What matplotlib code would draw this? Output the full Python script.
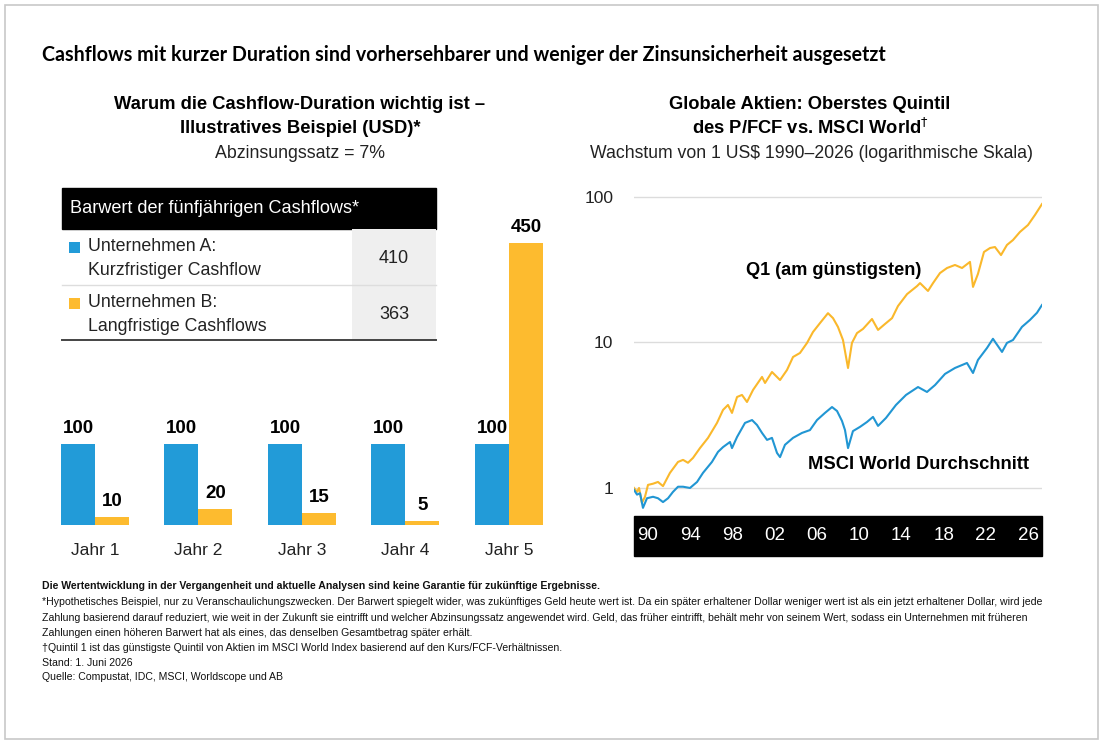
import numpy as np
import matplotlib
matplotlib.use('Agg')
import matplotlib.pyplot as plt
from matplotlib.patches import Rectangle
from matplotlib import transforms
from matplotlib.ticker import NullLocator

plt.rcParams['font.family'] = ['Liberation Sans', 'DejaVu Sans']

W, H = 1104, 748
BLUE = '#229bd8'
ORANGE = '#fdbb2f'
LINE_BLUE = '#2196d3'
LINE_ORANGE = '#fab82b'

# left: illustrative cash flows
jahre = ['Jahr 1', 'Jahr 2', 'Jahr 3', 'Jahr 4', 'Jahr 5']
cash_a = [100, 100, 100, 100, 100]
cash_b = [10, 20, 15, 5, 450]
table_names = [('Unternehmen A:', 'Kurzfristiger Cashflow'),
               ('Unternehmen B:', 'Langfristige Cashflows')]
table_values = [410, 363]

# right: growth of 1 US$
q1_years = [1990.0, 1990.27, 1990.45, 1990.71, 1990.98, 1991.25, 1991.7, 1992.14, 1992.59, 1993.21,
            1993.93, 1994.38, 1994.82, 1995.27, 1995.89, 1996.61, 1997.41, 1997.95, 1998.39, 1998.75,
            1999.2, 1999.64, 2000.09, 2000.63, 2001.43, 2001.7, 2002.32, 2003.04, 2003.66, 2004.2,
            2004.82, 2005.45, 2005.98, 2006.61, 2007.32, 2007.77, 2008.21, 2008.66, 2009.11, 2009.46,
            2009.91, 2010.45, 2011.25, 2011.79, 2012.41, 2013.04, 2013.57, 2014.38, 2015.27, 2015.54,
            2016.25, 2016.7, 2017.32, 2017.95, 2018.66, 2019.29, 2020.0, 2020.27, 2020.71, 2021.25,
            2021.79, 2022.23, 2022.77, 2023.3, 2023.84, 2024.46, 2025.18, 2025.8, 2026.43]
q1_values = [1.00, 0.94, 1.00, 0.79, 0.87, 1.05, 1.07, 1.10, 1.03, 1.27,
             1.51, 1.56, 1.49, 1.61, 1.88, 2.21, 2.80, 3.44, 3.72, 3.28,
             4.22, 4.36, 3.90, 4.72, 5.80, 5.27, 6.27, 5.52, 6.47, 7.95,
             8.47, 9.93, 11.8, 13.6, 15.9, 14.7, 12.8, 10.4, 6.68, 9.93,
             11.6, 12.4, 14.5, 12.2, 13.4, 14.7, 17.8, 21.5, 24.4, 25.6,
             22.6, 25.6, 30.0, 32.5, 34.1, 32.5, 35.8, 24.1, 29.6, 41.9,
             44.6, 45.3, 39.9, 46.8, 50.6, 57.5, 64.2, 75.2, 89.5]

msci_years = [1990.0, 1990.27, 1990.54, 1990.8, 1991.16, 1991.7, 1992.14, 1992.59, 1993.04, 1993.48,
              1993.93, 1994.38, 1995.0, 1995.63, 1996.16, 1996.96, 1997.5, 1997.95, 1998.57, 1998.75,
              1999.2, 1999.91, 2000.54, 2000.98, 2001.43, 2001.88, 2002.32, 2002.77, 2003.04, 2003.48,
              2004.2, 2005.0, 2005.71, 2006.34, 2007.05, 2007.68, 2008.13, 2008.57, 2008.84, 2009.11,
              2009.55, 2010.18, 2010.8, 2011.34, 2011.79, 2012.5, 2013.39, 2014.29, 2015.36, 2016.16,
              2016.88, 2017.77, 2018.66, 2019.73, 2020.27, 2020.71, 2021.52, 2022.05, 2022.86, 2023.3,
              2023.84, 2024.64, 2025.36, 2025.98, 2026.43]
msci_values = [0.97, 0.90, 0.92, 0.73, 0.85, 0.87, 0.85, 0.80, 0.85, 0.94,
               1.02, 1.02, 1.00, 1.10, 1.27, 1.51, 1.77, 1.91, 2.07, 1.88,
               2.24, 2.80, 2.93, 2.71, 2.39, 2.14, 2.21, 1.74, 1.63, 1.98,
               2.21, 2.39, 2.50, 2.93, 3.28, 3.60, 3.38, 2.89, 2.50, 1.88,
               2.46, 2.63, 2.84, 3.08, 2.67, 3.03, 3.72, 4.36, 4.94, 4.57,
               5.10, 6.08, 6.68, 7.23, 6.17, 7.58, 9.17, 10.6, 8.61, 9.93,
               10.4, 12.8, 14.3, 16.0, 18.1]

x_labels = ['90', '94', '98', '02', '06', '10', '14', '18', '22', '26']
y_ticks = [1, 10, 100]

footnotes = [
    'Die Wertentwicklung in der Vergangenheit und aktuelle Analysen sind keine Garantie für zukünftige Ergebnisse.',
    '*Hypothetisches Beispiel, nur zu Veranschaulichungszwecken. Der Barwert spiegelt wider, was zukünftiges Geld heute wert ist. '
    'Da ein später erhaltener Dollar weniger wert ist als ein jetzt erhaltener Dollar, wird jede',
    'Zahlung basierend darauf reduziert, wie weit in der Zukunft sie eintrifft und welcher Abzinsungssatz angewendet wird. '
    'Geld, das früher eintrifft, behält mehr von seinem Wert, sodass ein Unternehmen mit früheren',
    'Zahlungen einen höheren Barwert hat als eines, das denselben Gesamtbetrag später erhält.',
    '†Quintil 1 ist das günstigste Quintil von Aktien im MSCI World Index basierend auf den Kurs/FCF-Verhältnissen.',
    'Stand: 1. Juni 2026',
    'Quelle: Compustat, IDC, MSCI, Worldscope und AB',
]


def fig_rect(x0, y0, x1, y1):
    return [x0 / W, 1 - y1 / H, (x1 - x0) / W, (y1 - y0) / H]


fig = plt.figure(figsize=(W / 100, H / 100), dpi=100)

# background axes in pixel coordinates for texts, table and frames
bg = fig.add_axes([0, 0, 1, 1])
bg.set_xlim(0, W)
bg.set_ylim(H, 0)
bg.axis('off')

bg.add_patch(Rectangle((5, 5), 1093, 734, fill=False, edgecolor='#c8c8c8', lw=1.2))
bg.text(42, 55, 'Cashflows mit kurzer Duration sind vorhersehbarer und weniger der Zinsunsicherheit ausgesetzt',
        fontsize=14.1, fontweight='bold', family=['Lato', 'DejaVu Sans'], va='center', ha='left')

# left titles
bg.text(300, 104, 'Warum die Cashflow-Duration wichtig ist –', fontsize=13.2, fontweight='bold', ha='center', va='center')
bg.text(300, 128, 'Illustratives Beispiel (USD)*', fontsize=13.2, fontweight='bold', ha='center', va='center')
bg.text(300, 153, 'Abzinsungssatz = 7%', fontsize=12.8, ha='center', va='center', color='#222222')

# table
bg.add_patch(Rectangle((62, 188), 374, 41, color='black'))
bg.text(70, 208.5, 'Barwert der fünfjährigen Cashflows*', fontsize=13.1, color='white', va='center')
row_top = [229, 285]
for i, (names, val) in enumerate(zip(table_names, table_values)):
    top = row_top[i]
    bg.add_patch(Rectangle((352, top), 84, 56, color='#efefef', lw=0))
    bg.add_patch(Rectangle((69, top + 13), 11, 11, color=[BLUE, ORANGE][i], lw=0))
    bg.text(88, top + 17, names[0], fontsize=12.8, va='center', color='#222222')
    bg.text(88, top + 41, names[1], fontsize=12.8, va='center', color='#222222')
    bg.text(394, top + 29, str(val), fontsize=13, va='center', ha='center', color='#222222')
bg.plot([62, 436], [285, 285], color='#dddddd', lw=1)
bg.plot([62, 436], [340, 340], color='#444444', lw=1.4)

# right titles
bg.text(810, 104, 'Globale Aktien: Oberstes Quintil', fontsize=13.2, fontweight='bold', ha='center', va='center')
bg.text(810, 128, 'des P/FCF vs. MSCI World$^{\\dagger}$', fontsize=13.2, fontweight='bold', ha='center', va='center')
bg.text(812, 153, 'Wachstum von 1 US$ 1990–2026 (logarithmische Skala)', fontsize=12.7, ha='center', va='center',
        color='#222222')

# black year band
bg.add_patch(Rectangle((634, 516), 408, 40, color='black'))

# labels on the line chart
bg.text(834, 270, 'Q1 (am günstigsten)', fontsize=13.1, fontweight='bold', ha='center', va='center')
bg.text(919, 464, 'MSCI World Durchschnitt', fontsize=13.2, fontweight='bold', ha='center', va='center')

# footnotes
foot_y = [586, 602, 618, 633, 648, 662.5, 677]
for i, (line, y) in enumerate(zip(footnotes, foot_y)):
    bg.text(42, y, line, fontsize=7.52, va='center', ha='left',
            fontweight='bold' if i == 0 else 'normal', color='#111111')

# bar chart
ax = fig.add_axes(fig_rect(40, 243, 560, 525))
ax.patch.set_visible(False)
x = np.arange(len(jahre))
w = 0.3285
ax.bar(x - w / 2, cash_a, width=w, color=BLUE, lw=0)
ax.bar(x + w / 2, cash_b, width=w, color=ORANGE, lw=0)
ax.set_xlim(-0.531, 4.493)
ax.set_ylim(0, 348)
top = ax.get_ylim()[1]
for xi, va_, vb in zip(x, cash_a, cash_b):
    ax.annotate(str(va_), (xi - w / 2, min(va_, top)), xytext=(0, 5), textcoords='offset points',
                ha='center', va='bottom', fontsize=13.5, fontweight='bold', annotation_clip=False)
    ax.annotate(str(vb), (xi + w / 2, min(vb, top)), xytext=(0, 5), textcoords='offset points',
                ha='center', va='bottom', fontsize=13.5, fontweight='bold', annotation_clip=False)
ax.set_xticks(x)
ax.set_xticklabels(jahre, fontsize=12.5, color='#222222')
ax.tick_params(axis='x', length=0, pad=13)
ax.set_yticks([])
for s in ax.spines.values():
    s.set_visible(False)

# line chart
ax2 = fig.add_axes(fig_rect(634, 190, 1042, 515))
ax2.patch.set_visible(False)
ax2.set_yscale('log')
for t in y_ticks:
    ax2.axhline(t, color='#dcdcdc', lw=1, zorder=0)
ax2.plot(q1_years, q1_values, color=LINE_ORANGE, lw=1.5, zorder=3)
ax2.plot(msci_years, msci_values, color=LINE_BLUE, lw=1.5, zorder=3)
ax2.set_xlim(1990, 2026.43)
ax2.set_ylim(0.652, 111.7)
ax2.set_yticks(y_ticks)
ax2.set_yticklabels([str(t) for t in y_ticks], fontsize=12.5, color='#222222')
ax2.yaxis.set_minor_locator(NullLocator())
ax2.tick_params(axis='y', length=0, pad=15)
ax2.set_xticks([])
for s in ax2.spines.values():
    s.set_visible(False)

trans = transforms.blended_transform_factory(ax2.transData, fig.transFigure)
tick_pos = np.linspace(1991.25, 2025.2, len(x_labels))
for xp, lab in zip(tick_pos, x_labels):
    ax2.text(xp, 1 - 536 / H, lab, transform=trans, color='white', fontsize=13.5,
             ha='center', va='center')

fig.savefig('out.png', dpi=100, facecolor='white')
